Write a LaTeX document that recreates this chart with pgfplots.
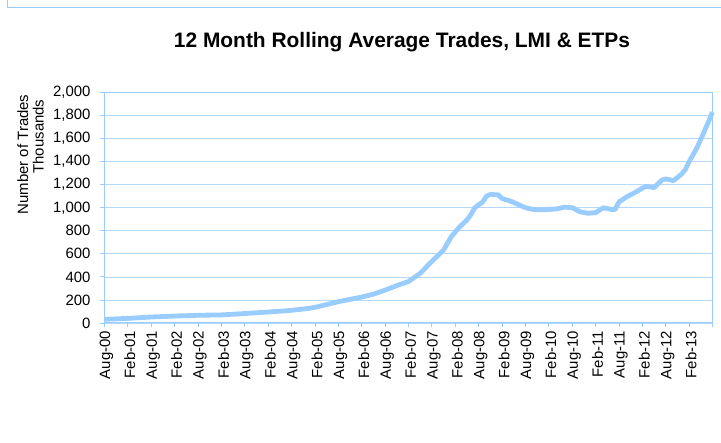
\documentclass[border=0pt]{standalone}
\usepackage{fontspec}
\setmainfont{Liberation Sans}
\usepackage{pgfplots}
\pgfplotsset{compat=1.18}
\definecolor{lineblue}{HTML}{99CCFF}
\definecolor{axblue}{HTML}{99CCFF}
\definecolor{gridblue}{HTML}{B4D8FA}
\begin{document}
\begin{tikzpicture}[x=1bp,y=1bp]
\path[use as bounding box] (0,0) rectangle (721,443);
\draw[axblue, line width=1bp] (7,443) -- (7,435) -- (721,435);
\node[font=\fontsize{21}{24}\selectfont\bfseries, anchor=base] at (402,395) {12 Month Rolling Average Trades, LMI \& ETPs};
\node[font=\fontsize{15}{17}\selectfont, rotate=90, anchor=base] at (28,288.5) {Number of Trades};
\node[font=\fontsize{15}{17}\selectfont, rotate=90, anchor=base] at (43.5,306.5) {Thousands};
\begin{axis}[
  at={(104.5bp,120bp)}, anchor=south west,
  scale only axis, width=608bp, height=230.5bp,
  xmin=0, xmax=156, ymin=0, ymax=2000,
  clip=false,
  xtick={0,6,...,156},
  xticklabels={Aug-00,Feb-01,Aug-01,Feb-02,Aug-02,Feb-03,Aug-03,Feb-04,Aug-04,Feb-05,Aug-05,Feb-06,Aug-06,Feb-07,Aug-07,Feb-08,Aug-08,Feb-09,Aug-09,Feb-10,Aug-10,Feb-11,Aug-11,Feb-12,Aug-12,Feb-13,{}},
  ytick={0,200,...,2000},
  /pgf/number format/assume math mode=true,
  /pgf/number format/1000 sep={,},
  scaled y ticks=false,
  tick label style={font=\fontsize{15}{17}\selectfont},
  xticklabel style={rotate=90, anchor=east, yshift=-2bp},
  yticklabel style={xshift=-6bp},
  xtick pos=bottom, ytick pos=left,
  tick align=outside, major tick length=4.5bp,
  tick style={axblue, line width=0.8bp},
  axis line style={axblue, line width=1bp},
  ymajorgrids, major grid style={gridblue, line width=0.7bp},
]
\addplot[lineblue, line width=4.8bp, line join=round] coordinates {
(0,32) (6,40) (12,52) (18,60) (24,67) (30,70) (36,82) (42,95) (48,110) (52,125)
(54,136) (57,160) (60,185) (63,205) (66,225) (69,250) (72,285) (75,325) (78,360)
(81,431) (84,535) (86,600) (87,633) (89,750) (91,830) (93,894) (94,940) (95,1000)
(97,1050) (98,1100) (99,1115) (101,1112) (102,1080) (104,1060) (106,1030) (108,1000)
(110,985) (112,982) (114,985) (116,990) (118,1005) (120,1000) (122,965) (124,952)
(126,957) (128,1000) (130,985) (131,985) (132,1050) (134,1095) (136,1130) (138,1170)
(139,1185) (141,1175) (143,1240) (144,1250) (146,1235) (148,1290) (149,1330)
(150,1400) (152,1520) (154,1670) (156,1830)
};
\end{axis}
\end{tikzpicture}
\end{document}
